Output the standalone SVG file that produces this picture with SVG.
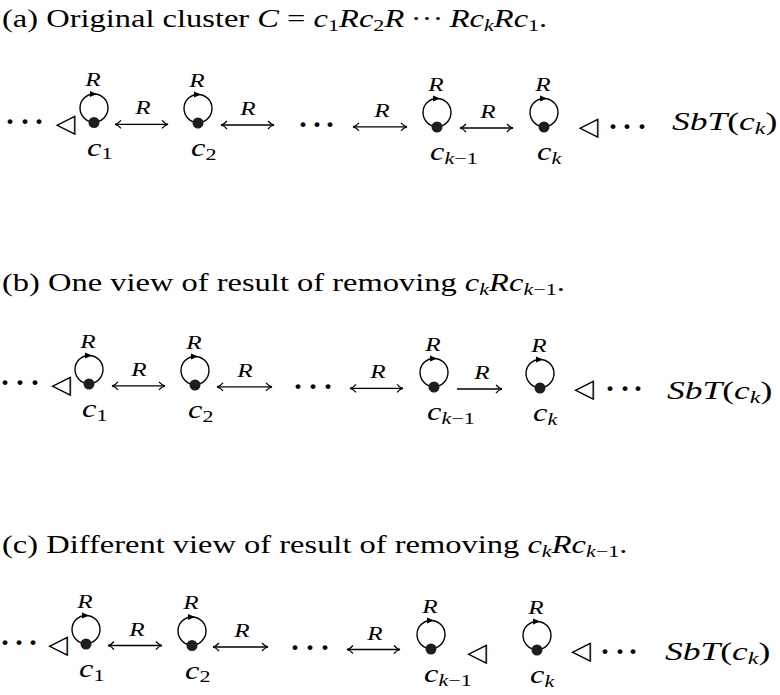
<svg xmlns="http://www.w3.org/2000/svg" width="780" height="695" viewBox="0 0 780 695">
<style>
 text{font-family:"Liberation Serif","DejaVu Serif",serif;fill:#000}
 .ttl{font-size:25px}
 .i{font-style:italic}
 .sub{font-size:17px;font-style:normal}
 .subi{font-size:17px;font-style:italic}
 .rl{font-size:18px;font-style:italic;text-anchor:middle}
 .lab{font-size:25px;font-style:italic}
 .cd{font-size:30px;font-weight:bold;text-anchor:middle}
 .tri{font-family:"DejaVu Sans",sans-serif;font-size:26px;text-anchor:middle}
 .edge{stroke:#000;stroke-width:1.3;fill:none}
 .bi{marker-start:url(#ah);marker-end:url(#ah)}
 .uni{marker-end:url(#ah)}
</style>
<defs>
 <marker id="ah" viewBox="-8 -6 10 12" markerWidth="10" markerHeight="12" refX="0" refY="0" orient="auto-start-reverse" markerUnits="userSpaceOnUse">
  <path d="M-6,-4 C-4,-1.6 -1.8,-0.4 0,0 C-1.8,0.4 -4,1.6 -6,4" fill="none" stroke="#000" stroke-width="1.2"/>
 </marker>
 <g id="loop">
  <circle cx="0" cy="-14.5" r="14" fill="none" stroke="#000" stroke-width="1.4"/>
  <path d="M-4,-31.5 L3,-28.5 L-4,-25.5 Z" fill="#000"/>
  <circle r="5.5" fill="#1e1e1e"/>
 </g>
</defs>

<!-- Titles -->
<text class="ttl" transform="translate(2,27) scale(1.3,1)">(a) Original cluster <tspan class="i">C</tspan> = <tspan class="i">c</tspan><tspan class="sub" dy="4">1</tspan><tspan class="i" dy="-4">Rc</tspan><tspan class="sub" dy="4">2</tspan><tspan class="i" dy="-4">R</tspan>&#8201;···&#8201;<tspan class="i">Rc</tspan><tspan class="subi" dy="4">k</tspan><tspan class="i" dy="-4">Rc</tspan><tspan class="sub" dy="4">1</tspan><tspan dy="-4">.</tspan></text>
<text class="ttl" transform="translate(2,291) scale(1.3,1)">(b) One view of result of removing <tspan class="i">c</tspan><tspan class="subi" dy="4">k</tspan><tspan class="i" dy="-4">Rc</tspan><tspan class="subi" dy="4">k</tspan><tspan class="sub">−1</tspan><tspan dy="-4">.</tspan></text>
<text class="ttl" transform="translate(2,553) scale(1.3,1)">(c) Different view of result of removing <tspan class="i">c</tspan><tspan class="subi" dy="4">k</tspan><tspan class="i" dy="-4">Rc</tspan><tspan class="subi" dy="4">k</tspan><tspan class="sub">−1</tspan><tspan dy="-4">.</tspan></text>

<!-- Row (a) -->
<text class="cd" x="10 25 39" y="131">···</text>
<text class="tri" x="65.5" y="132">◁</text>
<g id="a-c1" transform="translate(94,122.5)"><use href="#loop"/><text class="rl" transform="translate(-1,-36.5) scale(1.4,1)">R</text><text class="lab" transform="translate(-7,33) scale(1.3,1)">c<tspan class="sub" dy="3.5">1</tspan></text></g>
<g id="a-c2" transform="translate(198,123)"><use href="#loop"/><text class="rl" transform="translate(-1,-36.5) scale(1.4,1)">R</text><text class="lab" transform="translate(-7,33) scale(1.3,1)">c<tspan class="sub" dy="3.5">2</tspan></text></g>
<text class="cd" x="303 317 330" y="133.5">···</text>
<g id="a-ck1" transform="translate(437,127)"><use href="#loop"/><text class="rl" transform="translate(-1,-36.5) scale(1.4,1)">R</text><text class="lab" transform="translate(-7,33) scale(1.3,1)">c<tspan class="subi" dy="3.5">k</tspan><tspan class="sub">−1</tspan></text></g>
<g id="a-ck" transform="translate(544,127)"><use href="#loop"/><text class="rl" transform="translate(-1,-36.5) scale(1.4,1)">R</text><text class="lab" transform="translate(-7,33) scale(1.3,1)">c<tspan class="subi" dy="3.5">k</tspan></text></g>
<text class="tri" x="588.5" y="135">◁</text>
<text class="cd" x="613 627 642" y="135.5">···</text>
<text class="ttl" transform="translate(672,130) scale(1.42,1)"><tspan class="i">SbT</tspan>(<tspan class="i">c</tspan><tspan class="subi" dy="4">k</tspan><tspan dy="-4">)</tspan></text>

<!-- Row (b) -->
<text class="cd" x="5 20 35" y="392">···</text>
<text class="tri" x="61" y="392.5">◁</text>
<g id="b-c1" transform="translate(89,384)"><use href="#loop"/><text class="rl" transform="translate(-1,-36.5) scale(1.4,1)">R</text><text class="lab" transform="translate(-7,33) scale(1.3,1)">c<tspan class="sub" dy="3.5">1</tspan></text></g>
<g id="b-c2" transform="translate(195,385)"><use href="#loop"/><text class="rl" transform="translate(-1,-36.5) scale(1.4,1)">R</text><text class="lab" transform="translate(-7,33) scale(1.3,1)">c<tspan class="sub" dy="3.5">2</tspan></text></g>
<text class="cd" x="298 313 328" y="395.5">···</text>
<g id="b-ck1" transform="translate(434,387)"><use href="#loop"/><text class="rl" transform="translate(-1,-36.5) scale(1.4,1)">R</text><text class="lab" transform="translate(-7,33) scale(1.3,1)">c<tspan class="subi" dy="3.5">k</tspan><tspan class="sub">−1</tspan></text></g>
<g id="b-ck" transform="translate(540,388)"><use href="#loop"/><text class="rl" transform="translate(-1,-36.5) scale(1.4,1)">R</text><text class="lab" transform="translate(-7,33) scale(1.3,1)">c<tspan class="subi" dy="3.5">k</tspan></text></g>
<text class="tri" x="584" y="396.5">◁</text>
<text class="cd" x="610 625 638" y="397.5">···</text>
<text class="ttl" transform="translate(667,399) scale(1.42,1)"><tspan class="i">SbT</tspan>(<tspan class="i">c</tspan><tspan class="subi" dy="4">k</tspan><tspan dy="-4">)</tspan></text>

<!-- Row (c) -->
<text class="cd" x="5 19 33" y="652">···</text>
<text class="tri" x="58" y="653">◁</text>
<g id="c-c1" transform="translate(86,644)"><use href="#loop"/><text class="rl" transform="translate(-1,-36.5) scale(1.4,1)">R</text><text class="lab" transform="translate(-7,33) scale(1.3,1)">c<tspan class="sub" dy="3.5">1</tspan></text></g>
<g id="c-c2" transform="translate(192,645.5)"><use href="#loop"/><text class="rl" transform="translate(-1,-36.5) scale(1.4,1)">R</text><text class="lab" transform="translate(-7,33) scale(1.3,1)">c<tspan class="sub" dy="3.5">2</tspan></text></g>
<text class="cd" x="295 310 325" y="656.5">···</text>
<g id="c-ck1" transform="translate(431,649)"><use href="#loop"/><text class="rl" transform="translate(-1,-36.5) scale(1.4,1)">R</text><text class="lab" transform="translate(-7,33) scale(1.3,1)">c<tspan class="subi" dy="3.5">k</tspan><tspan class="sub">−1</tspan></text></g>
<text class="tri" x="477" y="660.5">◁</text>
<g id="c-ck" transform="translate(537,650)"><use href="#loop"/><text class="rl" transform="translate(-1,-36.5) scale(1.4,1)">R</text><text class="lab" transform="translate(-7,33) scale(1.3,1)">c<tspan class="subi" dy="3.5">k</tspan></text></g>
<text class="tri" x="581" y="659">◁</text>
<text class="cd" x="605 620 633" y="660.5">···</text>
<text class="ttl" transform="translate(665,660) scale(1.42,1)"><tspan class="i">SbT</tspan>(<tspan class="i">c</tspan><tspan class="subi" dy="4">k</tspan><tspan dy="-4">)</tspan></text>

<!-- Connectors -->
<g id="connectors">
 <line class="edge bi" x1="115" y1="124.3" x2="168" y2="124.3"/>
 <line class="edge bi" x1="221" y1="125" x2="274" y2="125"/>
 <line class="edge bi" x1="353" y1="126.8" x2="407" y2="126.8"/>
 <line class="edge bi" x1="460" y1="128" x2="513" y2="128"/>
 <line class="edge bi" x1="112" y1="385.8" x2="165" y2="385.8"/>
 <line class="edge bi" x1="217" y1="386.8" x2="272" y2="386.8"/>
 <line class="edge bi" x1="350" y1="388.3" x2="403" y2="388.3"/>
 <line class="edge uni" x1="457" y1="389" x2="502" y2="389"/>
 <line class="edge bi" x1="108" y1="645.5" x2="162" y2="645.5"/>
 <line class="edge bi" x1="213" y1="647" x2="268" y2="647"/>
 <line class="edge bi" x1="347" y1="649.5" x2="400" y2="649.5"/>
 <text class="rl" transform="translate(143,114.3) scale(1.4,1)">R</text>
 <text class="rl" transform="translate(248,115) scale(1.4,1)">R</text>
 <text class="rl" transform="translate(382,116.8) scale(1.4,1)">R</text>
 <text class="rl" transform="translate(488,118) scale(1.4,1)">R</text>
 <text class="rl" transform="translate(139,375.8) scale(1.4,1)">R</text>
 <text class="rl" transform="translate(245,376.8) scale(1.4,1)">R</text>
 <text class="rl" transform="translate(378,378.3) scale(1.4,1)">R</text>
 <text class="rl" transform="translate(482,379) scale(1.4,1)">R</text>
 <text class="rl" transform="translate(137,635.5) scale(1.4,1)">R</text>
 <text class="rl" transform="translate(242,637) scale(1.4,1)">R</text>
 <text class="rl" transform="translate(375,639.5) scale(1.4,1)">R</text>
</g>
</svg>
